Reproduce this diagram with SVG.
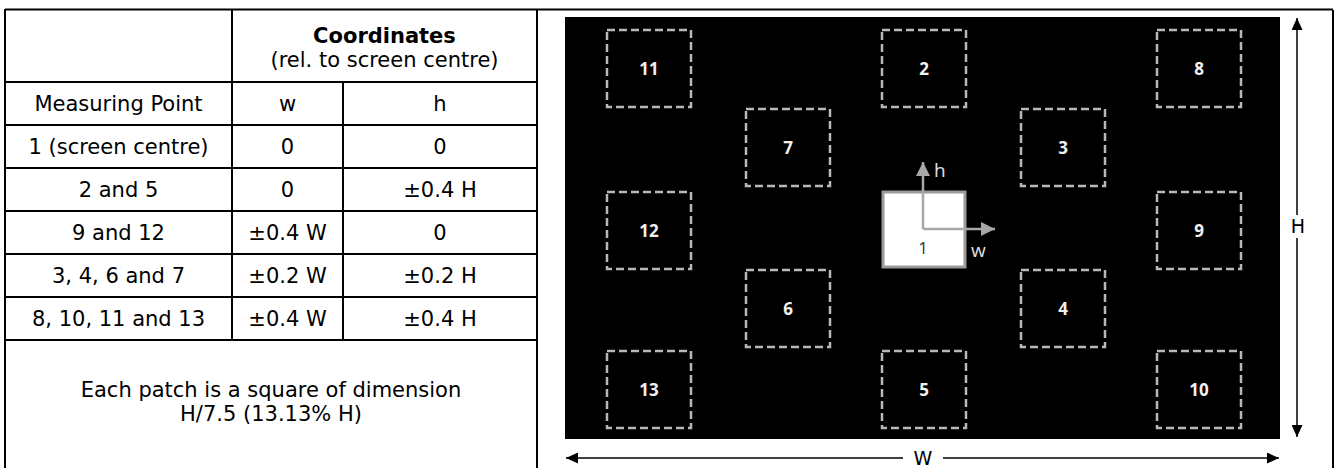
<svg xmlns="http://www.w3.org/2000/svg" width="1338" height="468" viewBox="0 0 1338 468">
<style>
.tl{stroke:#000;stroke-width:2;fill:none}
.tx{font-family:"DejaVu Sans",Verdana,sans-serif;font-size:21px;fill:#000;text-anchor:middle}
.b{font-weight:bold}
.patch{fill:none;stroke:#b8b8b8;stroke-width:2.5;stroke-dasharray:8 4}
.pl{font-family:"Open Sans","DejaVu Sans",sans-serif;font-size:17px;font-weight:700;fill:#f0f0f0;text-anchor:middle}
.ax{stroke:#a8a8a8;stroke-width:2.5;fill:none}
.axl{font-family:"Open Sans","DejaVu Sans",sans-serif;font-size:19px;fill:#e0e0e0}
.dim{stroke:#000;stroke-width:1.5;fill:none}
.dl{font-family:"DejaVu Sans",sans-serif;font-size:19px;fill:#000;text-anchor:middle}
</style>
<defs>
<marker id="ga" markerUnits="userSpaceOnUse" markerWidth="14" markerHeight="14" refX="14" refY="7" orient="auto"><path d="M0,0 L14,7 L0,14 z" fill="#a8a8a8"/></marker>
<marker id="ba" markerUnits="userSpaceOnUse" markerWidth="12" markerHeight="11" refX="12" refY="5.5" orient="auto-start-reverse"><path d="M0,0 L12,5.5 L0,11 z" fill="#000"/></marker>
</defs>
<rect width="1338" height="468" fill="#fff"/>

<g id="table">
<path class="tl" d="M5,9.5 H1333 M5,9 V468 M537,9 V468 M1333,10 V468 M5,82 H537 M232,9 V340 M343,82 V340 M5,125 H537 M5,168 H537 M5,211 H537 M5,254 H537 M5,297 H537 M5,340 H537"/>
<text class="tx b" x="384.5" y="43">Coordinates</text>
<text class="tx" x="384.5" y="67">(rel. to screen centre)</text>
<text class="tx" x="118.5" y="111">Measuring Point</text>
<text class="tx" x="287.5" y="111">w</text>
<text class="tx" x="440" y="111">h</text>
<text class="tx" x="118.5" y="154">1 (screen centre)</text>
<text class="tx" x="287.5" y="154">0</text>
<text class="tx" x="440" y="154">0</text>
<text class="tx" x="118.5" y="197">2 and 5</text>
<text class="tx" x="287.5" y="197">0</text>
<text class="tx" x="440" y="197">±0.4 H</text>
<text class="tx" x="118.5" y="240">9 and 12</text>
<text class="tx" x="287.5" y="240">±0.4 W</text>
<text class="tx" x="440" y="240">0</text>
<text class="tx" x="118.5" y="283">3, 4, 6 and 7</text>
<text class="tx" x="287.5" y="283">±0.2 W</text>
<text class="tx" x="440" y="283">±0.2 H</text>
<text class="tx" x="118.5" y="326">8, 10, 11 and 13</text>
<text class="tx" x="287.5" y="326">±0.4 W</text>
<text class="tx" x="440" y="326">±0.4 H</text>
<text class="tx" x="271" y="397">Each patch is a square of dimension</text>
<text class="tx" x="271" y="421">H/7.5 (13.13% H)</text>
</g>

<g id="screen">
<rect x="565" y="17" width="715" height="422" fill="#000"/>
</g>

<g id="p11"><rect class="patch" x="607" y="30" width="84" height="77"/><text class="pl" x="649" y="75">11</text></g>
<g id="p2"><rect class="patch" x="882" y="30" width="84" height="77"/><text class="pl" x="924" y="75">2</text></g>
<g id="p8"><rect class="patch" x="1157" y="30" width="84" height="77"/><text class="pl" x="1199" y="75">8</text></g>
<g id="p7"><rect class="patch" x="746" y="109" width="84" height="77"/><text class="pl" x="788" y="154">7</text></g>
<g id="p3"><rect class="patch" x="1021" y="109" width="84" height="77"/><text class="pl" x="1063" y="154">3</text></g>
<g id="p12"><rect class="patch" x="607" y="192" width="84" height="77"/><text class="pl" x="649" y="237">12</text></g>
<g id="p9"><rect class="patch" x="1157" y="192" width="84" height="77"/><text class="pl" x="1199" y="237">9</text></g>
<g id="p6"><rect class="patch" x="746" y="270" width="84" height="77"/><text class="pl" x="788" y="315">6</text></g>
<g id="p4"><rect class="patch" x="1021" y="270" width="84" height="77"/><text class="pl" x="1063" y="315">4</text></g>
<g id="p13"><rect class="patch" x="607" y="351" width="84" height="77"/><text class="pl" x="649" y="396">13</text></g>
<g id="p5"><rect class="patch" x="882" y="351" width="84" height="77"/><text class="pl" x="924" y="396">5</text></g>
<g id="p10"><rect class="patch" x="1157" y="351" width="84" height="77"/><text class="pl" x="1199" y="396">10</text></g>
<g id="p1"><rect x="883" y="192" width="82" height="75" fill="#fff" stroke="#9a9a9a" stroke-width="3"/><text class="pl" x="923" y="254" style="fill:#333;font-weight:400">1</text></g>

<g id="connectors">
<path class="ax" d="M923,229 V162" marker-end="url(#ga)"/>
<path class="ax" d="M923,229 H995" marker-end="url(#ga)"/>
<path class="dim" d="M1297,215 V18" marker-end="url(#ba)"/>
<path class="dim" d="M1297,238 V437" marker-end="url(#ba)"/>
<path class="dim" d="M903,458 H566" marker-end="url(#ba)"/>
<path class="dim" d="M943,458 H1279" marker-end="url(#ba)"/>
</g>
<g id="labels">
<text class="axl" x="934" y="177">h</text>
<text class="axl" x="971" y="257">w</text>
<text class="dl" x="1298" y="233">H</text>
<text class="dl" x="923" y="465">W</text>
</g>
</svg>
